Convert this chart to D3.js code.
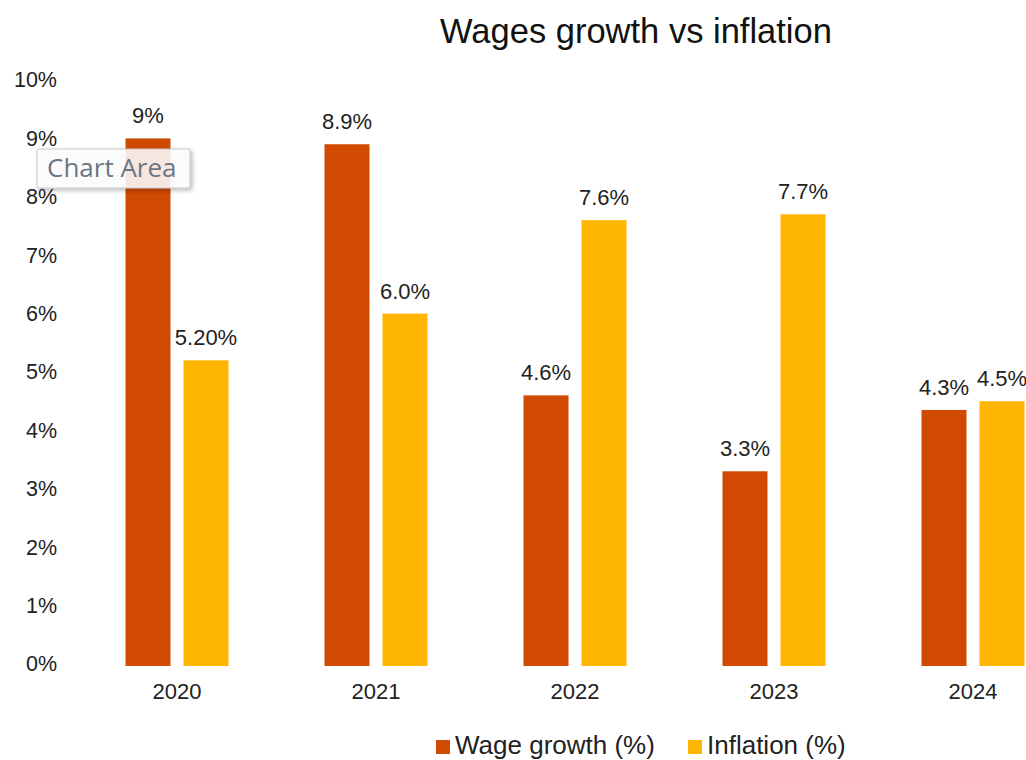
<!DOCTYPE html>
<html>
<head>
<meta charset="utf-8">
<script src="https://cdn.jsdelivr.net/npm/d3@7"></script>
<style>
	body { margin: 0; background: #fff; }
	svg { display: block; font-family: 'Liberation Sans', Arial, sans-serif; }
</style>
</head>
<body>
<div id="chart"></div>
<script>
const years = ['2020', '2021', '2022', '2023', '2024'];
const wageGrowth = [9, 8.9, 4.6, 3.3, 4.35];
const inflation = [5.2, 6.0, 7.6, 7.7, 4.5];
const wageLabels = ['9%', '8.9%', '4.6%', '3.3%', '4.3%'];
const inflationLabels = ['5.20%', '6.0%', '7.6%', '7.7%', '4.5%'];
const yTicks = [0, 1, 2, 3, 4, 5, 6, 7, 8, 9, 10];
const seriesNames = ['Wage growth (%)', 'Inflation (%)'];
const colors = ['#D04A02', '#FFB600'];

const width = 1026;
const height = 760;

const svg = d3.select('#chart').append('svg')
	.attr('width', width)
	.attr('height', height);

const x = d3.scaleBand()
	.domain(years)
	.range([77.5, 1072.5]);

const inner = d3.scaleBand()
	.domain([0, 1])
	.range([x.bandwidth() / 2 - 51.5, x.bandwidth() / 2 + 51.5])
	.paddingInner(0.224);

const y = d3.scaleLinear()
	.domain([0, 10])
	.range([664, 80]);

// title
svg.append('text')
	.attr('x', 636)
	.attr('y', 43)
	.attr('text-anchor', 'middle')
	.style('font-size', '34.5px')
	.style('fill', '#111')
	.text('Wages growth vs inflation');

// y axis
const yAxis = d3.axisLeft(y)
	.tickValues(yTicks)
	.tickFormat(d => d + '%')
	.tickSize(0)
	.tickPadding(0);

const yg = svg.append('g')
	.attr('transform', 'translate(57,0)')
	.call(yAxis);
yg.select('.domain').remove();
yg.selectAll('text').style('font-size', '21.5px').style('fill', '#222').style('font-family', 'inherit');

// x axis
const xAxis = d3.axisBottom(x).tickSize(0).tickPadding(0);
const xg = svg.append('g')
	.attr('transform', 'translate(0,683)')
	.call(xAxis);
xg.select('.domain').remove();
xg.selectAll('text').style('font-size', '22px').style('fill', '#222').style('font-family', 'inherit');

const rows = years.map((yr, i) => ({
	year: yr,
	values: [
		{ s: 0, v: wageGrowth[i], label: wageLabels[i] },
		{ s: 1, v: inflation[i], label: inflationLabels[i] },
	],
}));

const groups = svg.append('g').selectAll('g')
	.data(rows)
	.join('g')
	.attr('transform', d => `translate(${x(d.year)},0)`);

groups.selectAll('rect')
	.data(d => d.values)
	.join('rect')
	.attr('x', d => inner(d.s))
	.attr('width', inner.bandwidth())
	.attr('y', d => y(d.v))
	.attr('height', d => y(0) - y(d.v) + 2)
	.attr('fill', d => colors[d.s]);

groups.selectAll('text.lbl')
	.data(d => d.values)
	.join('text')
	.attr('class', 'lbl')
	.attr('x', d => inner(d.s) + inner.bandwidth() / 2)
	.attr('y', d => y(d.v) - 15)
	.attr('text-anchor', 'middle')
	.style('font-size', '22px')
	.style('fill', '#222')
	.text(d => d.label);

// legend
const legendX = [436, 688];
const legend = svg.append('g').selectAll('g')
	.data(seriesNames)
	.join('g')
	.attr('transform', (d, i) => `translate(${legendX[i]},740)`);
legend.append('rect')
	.attr('width', 14)
	.attr('height', 14)
	.attr('fill', (d, i) => colors[i]);
legend.append('text')
	.attr('x', 19)
	.attr('y', 14)
	.style('font-size', '26px')
	.style('fill', '#222')
	.text(d => d);

// hover tooltip seen in the screenshot
const defs = svg.append('defs');
const f = defs.append('filter').attr('id', 'shadow').attr('x', '-10%').attr('y', '-20%').attr('width', '130%').attr('height', '160%');
f.append('feDropShadow').attr('dx', 2).attr('dy', 2).attr('stdDeviation', 2).attr('flood-color', '#000').attr('flood-opacity', 0.3);

const tip = svg.append('g').attr('transform', 'translate(37,149)');
tip.append('rect')
	.attr('width', 153)
	.attr('height', 39)
	.attr('rx', 2)
	.attr('fill', '#fff')
	.attr('fill-opacity', 0.85)
	.attr('stroke', '#c8c8c8')
	.attr('filter', 'url(#shadow)');
tip.append('text')
	.attr('x', 10)
	.attr('y', 28)
	.style('font-family', "'Open Sans', 'DejaVu Sans', sans-serif")
	.style('font-size', '26px')
	.style('fill', '#6b7585')
	.text('Chart Area');
</script>
</body>
</html>
